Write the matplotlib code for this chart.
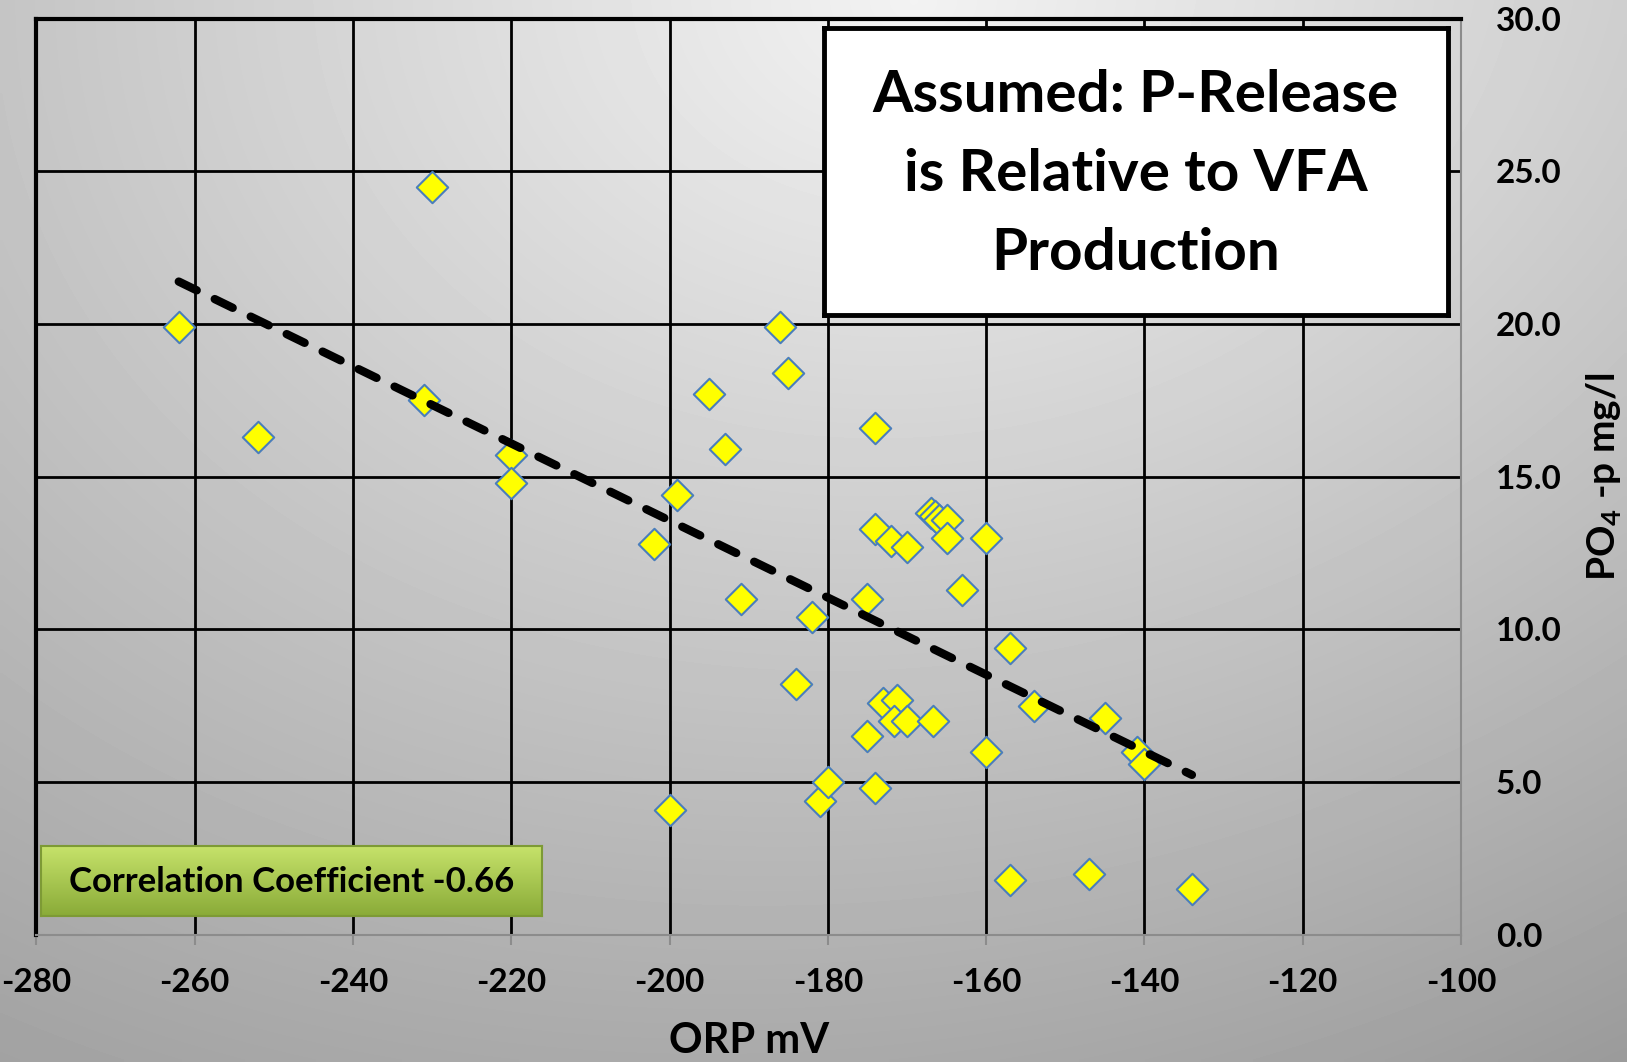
import numpy as np
import matplotlib
matplotlib.use('Agg')
import matplotlib.pyplot as plt

plt.rcParams['font.family'] = ['Lato', 'DejaVu Sans']
plt.rcParams['font.weight'] = 'bold'
plt.rcParams['axes.labelweight'] = 'bold'
plt.rcParams['axes.unicode_minus'] = False
plt.rcParams['mathtext.default'] = 'bf'
plt.rcParams['mathtext.fontset'] = 'custom'
plt.rcParams['mathtext.bf'] = 'Lato:bold'

# data
orp = [-262, -252, -230, -231, -220, -220, -199, -202, -200, -195,
       -193, -191, -186, -185, -184, -182, -181, -180, -175, -175,
       -174, -174, -174, -172, -170, -173, -171.3, -171.7, -170, -166.7,
       -167, -166.5, -166, -165, -165, -163, -160, -160, -157, -157,
       -154, -147, -145, -141, -140, -134]
po4 = [19.9, 16.3, 24.5, 17.5, 15.7, 14.8, 14.4, 12.8, 4.1, 17.7,
       15.9, 11.0, 19.9, 18.4, 8.2, 10.4, 4.4, 5.0, 11.0, 6.5,
       16.6, 13.3, 4.8, 12.9, 12.7, 7.6, 7.7, 7.0, 7.0, 7.0,
       13.8, 13.7, 13.6, 13.6, 13.0, 11.3, 13.0, 6.0, 9.4, 1.8,
       7.5, 2.0, 7.1, 6.0, 5.6, 1.5]
x_ticks = [-280, -260, -240, -220, -200, -180, -160, -140, -120, -100]
y_ticks = [0, 5, 10, 15, 20, 25, 30]
title_text = 'Assumed: P-Release\nis Relative to VFA\nProduction'
corr_text = 'Correlation Coefficient -0.66'

fig = plt.figure(figsize=(16.27, 10.62), dpi=100)

# background gradient, light at the top middle, darker towards the bottom
bg = fig.add_axes([0, 0, 1, 1], zorder=-10)
h, w = 212, 325
yy, xx = np.mgrid[0:h, 0:w]
d = np.hypot((xx / w - 0.56) * 1.23, yy / h)
shade = 0.95 - 0.26 * d - 0.05 * (xx / w) * (yy / h)
bg.imshow(shade, cmap='gray', vmin=0, vmax=1, aspect='auto', interpolation='bilinear')
bg.axis('off')

ax = fig.add_axes([0.0223, 0.1197, 0.8757, 0.8627])
ax.set_facecolor('none')

ax.scatter(orp, po4, marker='D', s=16**2, facecolor='#ffff00', edgecolor='#4a7ebb',
           linewidths=1.5, zorder=3)

# linear trend line through the points
k, b = np.polyfit(orp, po4, 1)
xs = np.array([min(orp), max(orp)])
ax.plot(xs, k * xs + b, color='black', lw=6, dashes=(2.4, 2.4),
        dash_capstyle='round', zorder=4)

ax.set_xlim(-280, -100)
ax.set_ylim(0, 30)
ax.set_xticks(x_ticks)
ax.set_yticks(y_ticks)
ax.set_yticklabels(['%.1f' % v for v in y_ticks])
ax.grid(True, color='black', lw=2)
ax.set_axisbelow(True)

ax.yaxis.tick_right()
ax.yaxis.set_label_position('right')
ax.tick_params(axis='x', length=7, width=1.5, color='#8c8c8c', pad=17, labelsize=24)
ax.tick_params(axis='y', length=0, pad=25, labelsize=24)
for lab in ax.get_xticklabels() + ax.get_yticklabels():
    lab.set_fontweight('bold')

for s in ['top', 'left']:
    ax.spines[s].set_linewidth(3)
    ax.spines[s].set_color('black')
for s in ['bottom', 'right']:
    ax.spines[s].set_linewidth(1.5)
    ax.spines[s].set_color('#8c8c8c')

ax.set_xlabel('ORP mV', fontsize=30, fontweight='bold', labelpad=18)
ax.set_ylabel('PO$_4$ -p mg/l', fontsize=28, fontweight='bold', labelpad=16)

# white title box
tb = fig.add_axes([0.5064, 0.703, 0.3833, 0.2706])
tb.set_facecolor('white')
tb.set_xticks([])
tb.set_yticks([])
for s in tb.spines.values():
    s.set_linewidth(3.5)
    s.set_color('black')
tb.text(0.5, 0.49, title_text, ha='center', va='center', fontsize=42,
        fontweight='bold', linespacing=1.6, transform=tb.transAxes)

# green correlation box
gb = fig.add_axes([0.0255, 0.1373, 0.3074, 0.0665])
grad = np.linspace(0, 1, 100).reshape(-1, 1)
top = np.array([0.78, 0.89, 0.42])
bot = np.array([0.54, 0.67, 0.22])
img = top + (bot - top) * grad[:, :, None]
gb.imshow(img, aspect='auto', extent=[0, 1, 0, 1])
gb.set_xlim(0, 1)
gb.set_ylim(0, 1)
gb.set_xticks([])
gb.set_yticks([])
for s in gb.spines.values():
    s.set_linewidth(1.5)
    s.set_color('#7d9a35')
gb.text(0.5, 0.48, corr_text, ha='center', va='center', fontsize=25, fontweight='bold')

fig.savefig('out.png', dpi=100)
